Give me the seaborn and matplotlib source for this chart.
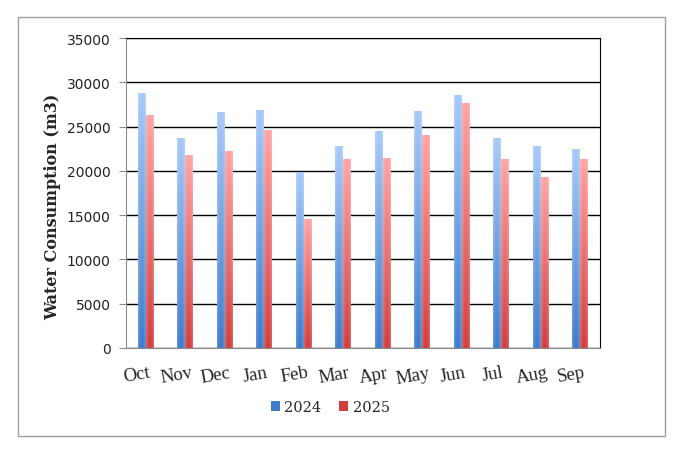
import numpy as np
import pandas as pd
import matplotlib
matplotlib.use("Agg")
import matplotlib.pyplot as plt
import matplotlib.transforms as mtransforms
import seaborn as sns
from matplotlib.patches import Patch, Rectangle
from matplotlib.colors import to_rgb

# data
MONTHS = ["Oct", "Nov", "Dec", "Jan", "Feb", "Mar", "Apr", "May", "Jun", "Jul", "Aug", "Sep"]
Y2024 = [28800, 23700, 26700, 26900, 19900, 22800, 24500, 26800, 28600, 23700, 22800, 22500]
Y2025 = [26300, 21800, 22300, 24600, 14600, 21300, 21500, 24100, 27700, 21300, 19300, 21300]
YEARS = ["2024", "2025"]

df = pd.DataFrame({
    "month": MONTHS * 2,
    "value": Y2024 + Y2025,
    "year": [YEARS[0]] * len(MONTHS) + [YEARS[1]] * len(MONTHS),
})

# gradient end colours (top, bottom) per series
GRAD = {
    "2024": ("#A6C9F8", "#3E7BCB"),
    "2025": ("#FFA3A3", "#D23E3E"),
}

sns.set_style("white")

fig = plt.figure(figsize=(6.88, 4.56), dpi=100)
ax = fig.add_axes([0.183, 0.235, 0.689, 0.679])

sns.barplot(data=df, x="month", y="value", hue="year", order=MONTHS,
            hue_order=YEARS, palette=[GRAD[y][1] for y in YEARS],
            width=0.4, legend=False, ax=ax, saturation=1)


def gradient_img(top, bottom, n=64):
    t = np.array(to_rgb(top))
    b = np.array(to_rgb(bottom))
    v = np.linspace(0, 1, n)[:, None, None]
    img = t * (1 - v) + b * v
    img = np.repeat(img, 12, axis=1)
    h = np.linspace(-1, 1, 12)[None, :, None]
    edge = 0.18 * h ** 2
    img = img * (1 - edge) + edge
    return np.clip(img, 0, 1)


for i, patch in enumerate(list(ax.patches)):
    year = YEARS[i // len(MONTHS)]
    x0, y0 = patch.get_x(), patch.get_y()
    w, h = patch.get_width(), patch.get_height()
    img = gradient_img(*GRAD[year])
    im = ax.imshow(img, extent=[x0, x0 + w, y0, y0 + h], aspect="auto",
                   origin="upper", zorder=3)
    im.set_clip_path(patch)
    patch.set_facecolor("none")
    patch.set_edgecolor("none")

ax.set_xlim(-0.5, len(MONTHS) - 0.5)
ax.set_ylim(0, 35000)
ax.set_yticks(range(0, 35001, 5000))
ax.yaxis.grid(True, color="black", linewidth=1.0)
ax.set_axisbelow(True)

for s in ["left", "bottom"]:
    ax.spines[s].set_color("#8C8C8C")
ax.spines["right"].set_color("black")
ax.spines["top"].set_color("black")

ax.tick_params(axis="y", left=True, length=5, color="#8C8C8C", labelsize=10, pad=6)
ax.tick_params(axis="x", bottom=False, pad=8)
for lab in ax.get_yticklabels():
    lab.set_family("DejaVu Sans")
    lab.set_color("#222222")
ax.set_xticks(range(len(MONTHS)))
ax.set_xticklabels(MONTHS, rotation=10, family="Liberation Serif", fontsize=13.5)
shift = mtransforms.ScaledTranslation(-9 / 100, 0, fig.dpi_scale_trans)
for lab in ax.get_xticklabels():
    lab.set_transform(lab.get_transform() + shift)

ax.set_xlabel("")
ax.set_ylabel("Water Consumption (m3)", family="DejaVu Serif",
              fontweight="bold", fontsize=11.5)
ax.yaxis.set_label_coords(-0.137, 0.46)

handles = [Patch(facecolor=GRAD[y][1], edgecolor="none") for y in YEARS]
fig.legend(handles, YEARS, loc="center", bbox_to_anchor=(0.48, 0.105),
           ncol=2, frameon=False, handlelength=0.65, handleheight=0.65,
           handletextpad=0.3, columnspacing=1.2,
           prop={"family": "DejaVu Serif", "size": 10.5})

fig.patches.append(Rectangle((18 / 688, 1 - 437 / 456), 647 / 688, 419 / 456,
                             transform=fig.transFigure, fill=False,
                             edgecolor="#A0A0A0", linewidth=1.0))

fig.savefig("out.png", dpi=100)
